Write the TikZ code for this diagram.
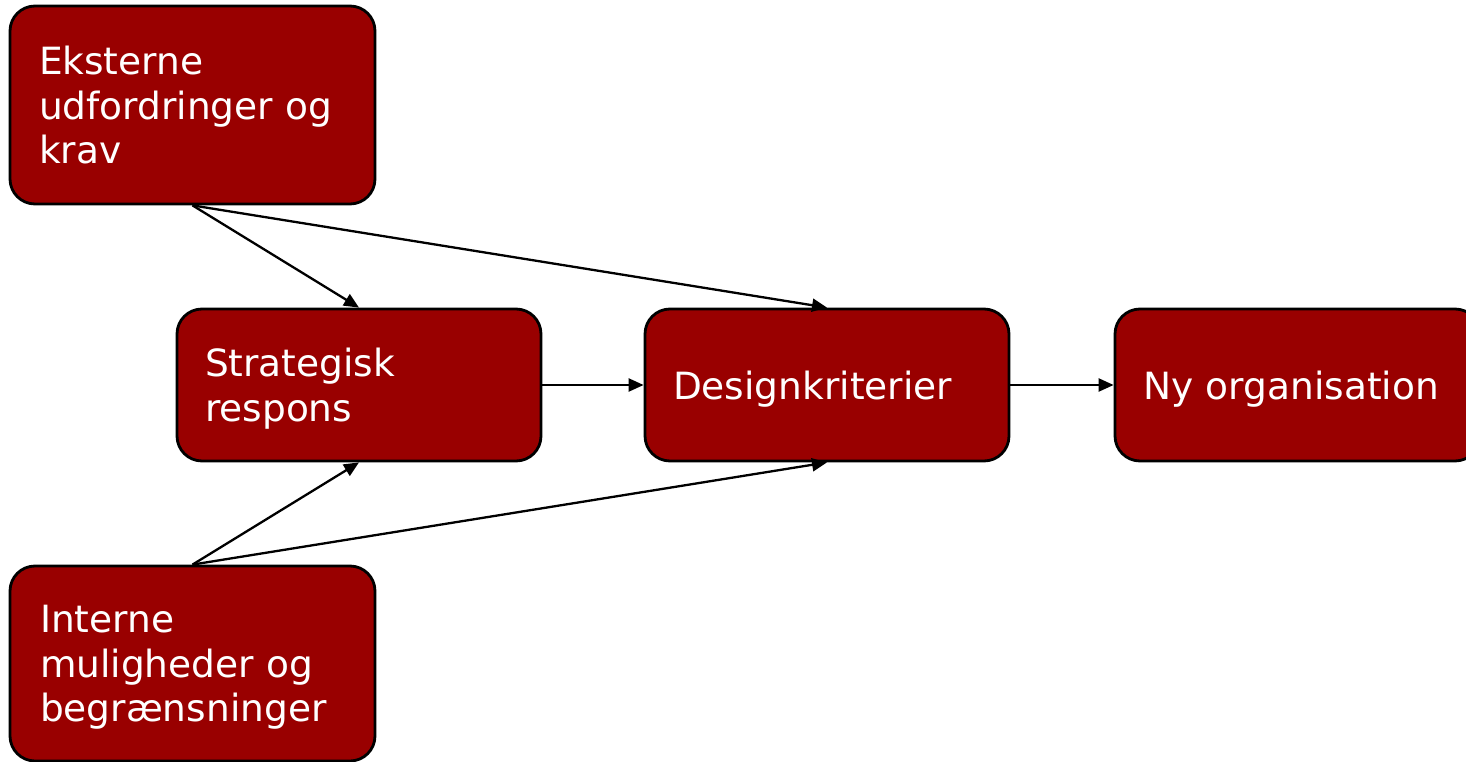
\documentclass[tikz,border=0pt]{standalone}
\usepackage{fontspec}
\setmainfont{DejaVu Sans}
\usetikzlibrary{arrows.meta}
\definecolor{boxred}{HTML}{990000}
\tikzset{
  box/.style={draw=black, line width=2.8pt, fill=boxred, rounded corners=25pt,
    text=white, align=left, inner xsep=28pt, inner ysep=0pt, text depth=0pt,
    font=\fontsize{37.5}{44.5}\selectfont},
  flow/.style={draw=black, line width=2.3pt, -{Triangle[length=15pt,width=13pt]}}
}
\begin{document}
\begin{tikzpicture}[x=1pt,y=-1pt]
\clip (0,0) rectangle (1466,762);
\fill[white] (0,0) rectangle (1466,762);
% boxes (text depth spans the lines below the first one)
\node[box, text depth=89pt, minimum width=365pt, minimum height=198pt, text width=307pt, inner xsep=29pt] (ext) at (192.5,105)
  {Eksterne\\udfordringer og\\krav};
\node[box, text depth=44.5pt, minimum width=364pt, minimum height=152pt, text width=308pt] (strat) at (359,385)
  {Strategisk\\respons};
\node[box, minimum width=364pt, minimum height=152pt, text width=308pt] (design) at (827,385)
  {Designkriterier};
\node[box, minimum width=365pt, minimum height=152pt, text width=309pt] (ny) at (1297.5,385)
  {Ny organisation};
\node[box, text depth=89pt, minimum width=365pt, minimum height=195pt, text width=305pt, inner xsep=30pt] (int) at (192.5,663.5)
  {Interne\\muligheder og\\begrænsninger};
% connectors
\draw[flow] (ext.south) -- (strat.north);
\draw[flow] (ext.south) -- (design.north);
\draw[flow] (int.north) -- (strat.south);
\draw[flow] (int.north) -- (design.south);
\draw[flow] (strat.east) -- (design.west);
\draw[flow] (design.east) -- (ny.west);
\end{tikzpicture}
\end{document}
